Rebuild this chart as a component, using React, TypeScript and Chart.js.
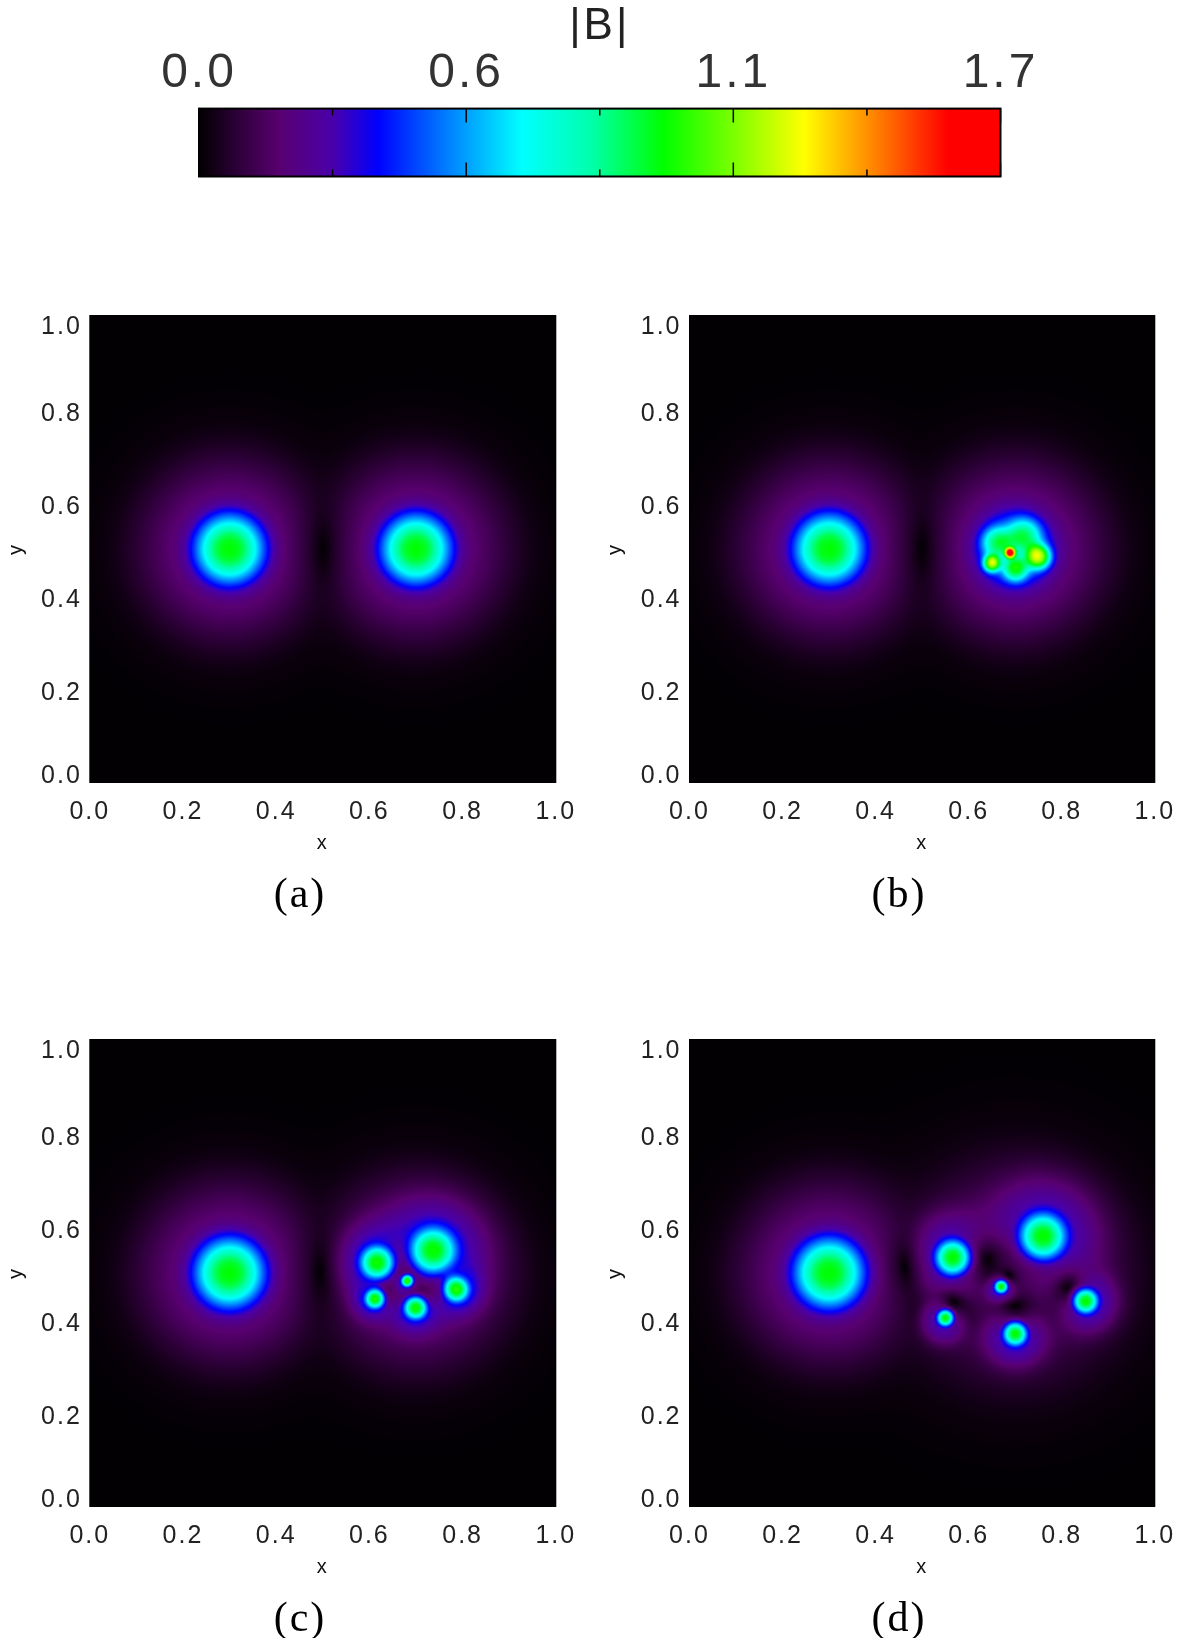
import React, { useEffect, useRef } from "react";
import { Chart, registerables } from "chart.js";

Chart.register(...registerables);

// Colour bar
const BAR_TICK_VALUES = [0, 0.2833, 0.5667, 0.85, 1.1333, 1.4167, 1.7];
const BAR_TICK_LABELS = ["0.0", "", "0.6", "", "1.1", "", "1.7"];
const BAR_RANGE = [0, 1.7];
const COLOR_POS = [0, 0.012, 0.035, 0.1, 0.167, 0.223, 0.31, 0.403, 0.49, 0.579, 0.67, 0.755, 0.845, 0.934, 1];
const COLOR_HEX = ["#020003", "#0c000e", "#22002a", "#580070", "#4a00aa", "#0000ff", "#0080ff", "#00ffff", "#00ffaa", "#00ff00", "#80ff00", "#ffff00", "#ff8000", "#ff0000", "#ff0000"];

// Panel axes
const AXIS_TICKS = [0, 0.2, 0.4, 0.6, 0.8, 1];

// Left tube, the same in all four panels
const LEFT_X = [0.3];
const LEFT_Y = [0.5];
const LEFT_CORE = [0.081];
const LEFT_PEAK = [0.98];
const LEFT_SWIRL = [2.9];
const LEFT_REACH = [0.14];

// Right-hand tubes of each panel (centre, core radius, peak |B|, swirl strength, swirl reach)
const A_X = [0.7];
const A_Y = [0.5];
const A_CORE = [0.081];
const A_PEAK = [0.98];
const A_SWIRL = [2.9];
const A_REACH = [0.14];

const B_X = [0.699, 0.72, 0.659, 0.689, 0.751, 0.649, 0.701];
const B_Y = [0.499, 0.531, 0.515, 0.492, 0.483, 0.469, 0.456];
const B_CORE = [0.09, 0.036, 0.032, 0.011, 0.026, 0.018, 0.026];
const B_PEAK = [0.62, 0.36, 0.38, 0.98, 0.76, 0.76, 0.46];
const B_SWIRL = [2.9, 0, 0, 0, 0, 0, 0];
const B_REACH = [0.14, 0.08, 0.08, 0.08, 0.08, 0.08, 0.08];

const C_X = [0.7, 0.736, 0.617, 0.681, 0.786, 0.612, 0.699];
const C_Y = [0.5, 0.547, 0.522, 0.483, 0.465, 0.445, 0.426];
const C_CORE = [0, 0.053, 0.038, 0.013, 0.028, 0.022, 0.026];
const C_PEAK = [0, 0.98, 0.98, 0.98, 0.98, 0.98, 0.98];
const C_SWIRL = [2.5, 4.5, 6, 18, 9, 10, 9];
const C_REACH = [0.148, 0.08, 0.06, 0.02, 0.042, 0.035, 0.04];

const D_X = [0.7, 0.759, 0.566, 0.67, 0.851, 0.55, 0.7];
const D_Y = [0.5, 0.578, 0.533, 0.471, 0.44, 0.404, 0.37];
const D_CORE = [0, 0.053, 0.04, 0.015, 0.028, 0.019, 0.027];
const D_PEAK = [0, 0.98, 0.98, 0.98, 0.98, 0.98, 0.98];
const D_SWIRL = [1.4, 4.5, 6, 18, 9, 11, 9];
const D_REACH = [0.18, 0.09, 0.07, 0.025, 0.05, 0.04, 0.05];

const CAPTIONS = ["(a)", "(b)", "(c)", "(d)"];

type Tube = { x: number; y: number; core: number; peak: number; swirl: number; reach: number };

function tubes(xs: number[], ys: number[], core: number[], peak: number[], swirl: number[], reach: number[]): Tube[] {
  return xs.map((x, i) => ({ x, y: ys[i], core: core[i], peak: peak[i], swirl: swirl[i], reach: reach[i] }));
}

const LEFT = tubes(LEFT_X, LEFT_Y, LEFT_CORE, LEFT_PEAK, LEFT_SWIRL, LEFT_REACH);
const PANEL_TUBES = [
  tubes(A_X, A_Y, A_CORE, A_PEAK, A_SWIRL, A_REACH),
  tubes(B_X, B_Y, B_CORE, B_PEAK, B_SWIRL, B_REACH),
  tubes(C_X, C_Y, C_CORE, C_PEAK, C_SWIRL, C_REACH),
  tubes(D_X, D_Y, D_CORE, D_PEAK, D_SWIRL, D_REACH),
];

function buildLut(): Uint8ClampedArray {
  const c = document.createElement("canvas");
  c.width = 1024;
  c.height = 1;
  const g = c.getContext("2d", { willReadFrequently: true })!;
  const lg = g.createLinearGradient(0, 0, 1024, 0);
  COLOR_POS.forEach((p, i) => lg.addColorStop(p, COLOR_HEX[i]));
  g.fillStyle = lg;
  g.fillRect(0, 0, 1024, 1);
  return g.getImageData(0, 0, 1024, 1).data;
}

const fieldPlugin = {
  id: "magneticField",
  beforeDatasetsDraw(chart: any) {
    const { chartArea: a, ctx, scales } = chart;
    const w = Math.round(a.right - a.left);
    const h = Math.round(a.bottom - a.top);
    const off = document.createElement("canvas");
    off.width = w;
    off.height = h;
    const g = off.getContext("2d")!;
    const img = g.createImageData(w, h);
    const lut = buildLut();
    const list: Tube[] = chart.data.datasets[0].data;
    const max = BAR_RANGE[1];
    for (let j = 0; j < h; j++) {
      const yv = scales.y.getValueForPixel(a.top + j + 0.5);
      for (let i = 0; i < w; i++) {
        const xv = scales.x.getValueForPixel(a.left + i + 0.5);
        let bz = 0, bx = 0, by = 0;
        for (const t of list) {
          const dx = xv - t.x, dy = yv - t.y;
          const r2 = dx * dx + dy * dy;
          if (t.core > 0) bz += t.peak * Math.exp(-Math.pow(r2 / (t.core * t.core), 1.25));
          const f = t.swirl * Math.exp(-r2 / (t.reach * t.reach));
          bx += -dy * f;
          by += dx * f;
        }
        const v = Math.min(1, Math.sqrt(bz * bz + bx * bx + by * by) / max);
        const k = Math.round(v * 1023) * 4;
        const o = (j * w + i) * 4;
        img.data[o] = lut[k];
        img.data[o + 1] = lut[k + 1];
        img.data[o + 2] = lut[k + 2];
        img.data[o + 3] = 255;
      }
    }
    g.putImageData(img, 0, 0);
    ctx.drawImage(off, a.left, a.top);
  },
  afterDatasetsDraw(chart: any) {
    const { chartArea: a, ctx } = chart;
    ctx.save();
    ctx.strokeStyle = "#000";
    ctx.lineWidth = 1;
    ctx.strokeRect(a.left, a.top, a.right - a.left, a.bottom - a.top);
    ctx.restore();
  },
};

// IDL pulls the first and last y labels inside the frame
const Y_LABEL_SHIFT = [-6, 4, 4, 5, 5, 12];
const labelShiftPlugin = {
  id: "labelShift",
  beforeDraw(chart: any) {
    chart.ctx.letterSpacing = "2px";
    const s = chart.scales.y;
    const items = s.getLabelItems(chart.chartArea);
    if (!s.$shifted) {
      items.forEach((it: any, i: number) => {
        it.options.translation[1] += Y_LABEL_SHIFT[i];
      });
      s.$shifted = true;
    }
  },
};

const barFramePlugin = {
  id: "barFrame",
  beforeDraw(chart: any) {
    chart.ctx.letterSpacing = "3px";
  },
  afterDatasetsDraw(chart: any) {
    const { chartArea: a, ctx, scales } = chart;
    ctx.save();
    ctx.strokeStyle = "#000";
    ctx.lineWidth = 1.5;
    scales.x.ticks.forEach((t: any, i: number) => {
      const px = scales.x.getPixelForValue(t.value);
      const len = i % 2 === 0 ? 14 : 7;
      ctx.beginPath();
      ctx.moveTo(px, a.top);
      ctx.lineTo(px, a.top + len);
      ctx.moveTo(px, a.bottom);
      ctx.lineTo(px, a.bottom - len);
      ctx.stroke();
    });
    ctx.lineWidth = 2;
    ctx.strokeRect(a.left, a.top, a.right - a.left, a.bottom - a.top);
    ctx.restore();
  },
};

function panelConfig(index: number): any {
  const left = index % 2 === 0;
  return {
    type: "scatter",
    data: {
      datasets: [
        {
          label: "|B|",
          data: [...LEFT, ...PANEL_TUBES[index]],
          pointRadius: 0,
          pointHoverRadius: 0,
          showLine: false,
        },
      ],
    },
    plugins: [fieldPlugin, labelShiftPlugin],
    options: {
      animation: false,
      responsive: false,
      layout: { padding: { top: 35.5, right: 0, left: 0, bottom: 0 } },
      plugins: {
        legend: { display: false },
        tooltip: { enabled: false },
        title: {
          display: true,
          position: "bottom",
          text: CAPTIONS[index],
          color: "#000",
          padding: 0,
          font: { family: "'Liberation Serif'", size: 42, weight: "normal", lineHeight: 1.2 },
        },
      },
      scales: {
        x: {
          type: "linear",
          min: 0,
          max: 1,
          afterBuildTicks: (s: any) => { s.ticks = AXIS_TICKS.map((value) => ({ value })); },
          afterFit: (s: any) => { s.height = 88.1; },
          grid: { display: false },
          border: { display: false },
          ticks: {
            autoSkip: false,
            maxRotation: 0,
            padding: 6.7,
            color: "#222",
            font: { family: "'Liberation Sans'", size: 25 },
            callback: (v: number) => v.toFixed(1),
          },
          title: {
            display: true,
            text: "x",
            color: "#111",
            padding: { top: 0, bottom: 15 },
            font: { family: "'Liberation Sans'", size: 20 },
          },
        },
        y: {
          type: "linear",
          min: 0,
          max: 1,
          afterBuildTicks: (s: any) => { s.ticks = AXIS_TICKS.map((value) => ({ value })); },
          afterFit: (s: any) => { s.width = left ? 89.8 : 90.5; },
          grid: { display: false },
          border: { display: false },
          ticks: {
            autoSkip: false,
            padding: 0,
            color: "#222",
            font: { family: "'Liberation Sans'", size: 25 },
            callback: (v: number) => v.toFixed(1),
          },
          title: {
            display: true,
            text: "y",
            color: "#111",
            padding: { top: 4, bottom: 0 },
            font: { family: "'Liberation Sans'", size: 20 },
          },
        },
        margin: {
          type: "linear",
          position: "right",
          min: 0,
          max: 1,
          afterFit: (s: any) => { s.width = 44.2; },
          grid: { display: false },
          border: { display: false },
          ticks: { display: false },
        },
      },
    },
  };
}

function barConfig(): any {
  return {
    type: "bar",
    data: {
      labels: ["|B|"],
      datasets: [
        {
          data: [BAR_RANGE],
          barPercentage: 1,
          categoryPercentage: 1,
          borderWidth: 0,
          backgroundColor: (ctx: any) => {
            const a = ctx.chart.chartArea;
            if (!a) return "#000";
            const lg = ctx.chart.ctx.createLinearGradient(a.left, 0, a.right, 0);
            COLOR_POS.forEach((p, i) => lg.addColorStop(p, COLOR_HEX[i]));
            return lg;
          },
        },
      ],
    },
    plugins: [barFramePlugin],
    options: {
      indexAxis: "y",
      animation: false,
      responsive: false,
      layout: { padding: { left: 199, right: 199.5, top: 5, bottom: 13.5 } },
      plugins: {
        legend: { display: false },
        tooltip: { enabled: false },
        title: {
          display: true,
          text: "|B|",
          color: "#222",
          padding: 0,
          font: { family: "'Liberation Sans'", size: 44, weight: "normal", lineHeight: 1 },
        },
      },
      scales: {
        x: {
          type: "linear",
          position: "top",
          min: BAR_RANGE[0],
          max: BAR_RANGE[1],
          afterBuildTicks: (s: any) => { s.ticks = BAR_TICK_VALUES.map((value) => ({ value })); },
          afterFit: (s: any) => { s.height = 59.6; },
          grid: { display: false },
          border: { display: false },
          ticks: {
            autoSkip: false,
            maxRotation: 0,
            padding: -2,
            color: "#333",
            font: { family: "'Liberation Sans'", size: 48 },
            callback: (_v: number, i: number) => BAR_TICK_LABELS[i],
          },
        },
        y: { display: false },
      },
    },
  };
}

function ChartCanvas({ config, style, width, height }: { config: () => any; style: React.CSSProperties; width: number; height: number }) {
  const ref = useRef<HTMLCanvasElement>(null);
  useEffect(() => {
    const chart = new Chart(ref.current!, config());
    return () => chart.destroy();
  }, []);
  return <canvas ref={ref} width={width} height={height} style={{ position: "absolute", display: "block", width, height, ...style }} />;
}

export default function App() {
  return (
    <div style={{ position: "absolute", left: 0, top: 0, width: 1200, height: 1638, overflow: "hidden", background: "#fff" }}>
      <ChartCanvas config={barConfig} width={1200} height={190} style={{ left: 0, top: 0 }} />
      <ChartCanvas config={() => panelConfig(0)} width={600} height={641} style={{ left: 0, top: 280 }} />
      <ChartCanvas config={() => panelConfig(1)} width={600} height={641} style={{ left: 599, top: 280 }} />
      <ChartCanvas config={() => panelConfig(2)} width={600} height={641} style={{ left: 0, top: 1003.5 }} />
      <ChartCanvas config={() => panelConfig(3)} width={600} height={641} style={{ left: 599, top: 1003.5 }} />
    </div>
  );
}
